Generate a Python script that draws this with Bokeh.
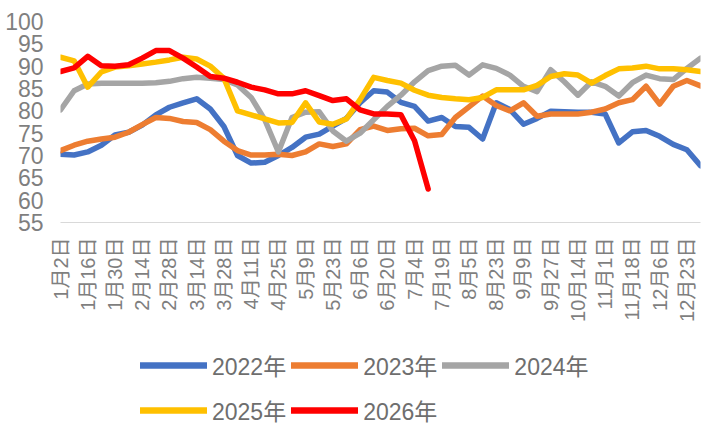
import math
from bokeh.plotting import figure
from bokeh.layouts import column
from bokeh.models import Range1d, FixedTicker, Legend, LegendItem
from bokeh.embed import file_html
from bokeh.resources import INLINE

tick_labels = ["1月2日", "1月16日", "1月30日", "2月14日", "2月28日", "3月14日",
               "3月28日", "4月11日", "4月25日", "5月9日", "5月23日", "6月6日",
               "6月20日", "7月4日", "7月19日", "8月5日", "8月23日", "9月9日",
               "9月27日", "10月14日", "11月1日", "11月18日", "12月6日", "12月23日"]

y2022 = [70.3, 70.1, 70.8, 72.3, 74.6, 75.2, 76.8, 79.1, 80.8, 81.8, 82.7, 80.4,
         76.5, 70.0, 68.3, 68.5, 70.0, 71.8, 74.1, 74.8, 76.6, 78.3, 81.8, 84.5,
         84.2, 81.9, 81.0, 77.7, 78.5, 76.5, 76.3, 73.7, 81.8, 80.3, 77.0, 78.3,
         79.9, 79.8, 79.7, 79.7, 79.3, 72.8, 75.3, 75.6, 74.3, 72.5, 71.3, 67.7]
y2023 = [71.1, 72.3, 73.2, 73.7, 74.1, 75.2, 76.9, 78.5, 78.3, 77.6, 77.4, 75.8,
         73.2, 71.1, 70.1, 70.1, 70.3, 70.0, 70.8, 72.6, 72.0, 72.6, 75.8, 76.6,
         75.6, 76.0, 76.1, 74.4, 74.7, 78.5, 80.9, 83.3, 81.2, 80.0, 81.8, 78.8,
         79.3, 79.3, 79.3, 79.7, 80.4, 81.8, 82.5, 85.5, 81.5, 85.5, 86.8, 85.6]
y2024 = [80.2, 84.5, 86.0, 86.2, 86.2, 86.2, 86.2, 86.3, 86.6, 87.2, 87.5, 87.3,
         87.0, 85.8, 83.0, 78.0, 70.8, 78.5, 79.7, 79.8, 75.5, 73.2, 75.0, 78.0,
         81.0, 83.5, 86.5, 89.0, 90.0, 90.2, 88.0, 90.3, 89.5, 88.0, 85.5, 84.3,
         89.2, 86.5, 83.5, 86.5, 85.5, 83.3, 86.3, 88.0, 87.2, 87.0, 89.5, 91.8]
y2025 = [92.0, 91.2, 85.3, 88.7, 89.8, 90.1, 90.5, 90.9, 91.4, 92.0, 91.6, 90.0,
         87.3, 80.0, 79.1, 78.2, 77.3, 77.4, 81.8, 77.5, 77.0, 78.2, 82.5, 87.5,
         86.8, 86.2, 84.6, 83.5, 83.0, 82.7, 82.5, 83.0, 84.7, 84.7, 84.7, 85.7,
         87.7, 88.3, 88.0, 86.2, 87.9, 89.4, 89.6, 90.0, 89.4, 89.4, 89.2, 88.8]
y2026 = [88.8, 89.6, 92.2, 90.1, 90.0, 90.3, 91.8, 93.5, 93.5, 91.8, 89.8, 87.7,
         87.3, 86.4, 85.3, 84.7, 83.8, 83.8, 84.5, 83.4, 82.3, 82.7, 80.2, 79.3,
         79.3, 79.1, 73.3, 62.5]

series_names = ["2022年", "2023年", "2024年", "2025年", "2026年"]
series_values = [y2022, y2023, y2024, y2025, y2026]
series_colors = ["#4472C4", "#ED7D31", "#A5A5A5", "#FFC000", "#FF0000"]

n_cat = len(y2022)
tick_pos = list(range(0, 2 * len(tick_labels), 2))

FONT = "Liberation Sans, Noto Sans CJK SC"
LINE_W = 5.5

# ---------------- main chart ----------------
p = figure(width=715, height=335, output_backend="svg", toolbar_location=None,
           x_range=Range1d(0, n_cat - 1), y_range=Range1d(55, 100),
           min_border_left=60, min_border_right=15, min_border_top=21,
           min_border_bottom=113)
p.outline_line_color = None
p.background_fill_color = "white"
p.border_fill_color = "white"
p.xgrid.visible = False
p.ygrid.visible = False

p.yaxis.ticker = FixedTicker(ticks=list(range(55, 101, 5)))
p.yaxis.axis_line_color = None
p.yaxis.major_tick_line_color = None
p.yaxis.minor_tick_line_color = None
p.yaxis.major_tick_out = 0
p.yaxis.major_tick_in = 0
p.yaxis.major_label_standoff = 17
p.yaxis.major_label_text_font_size = "23px"
p.yaxis.major_label_text_color = "#7F7F7F"
p.yaxis.major_label_text_font = FONT

p.xaxis.ticker = FixedTicker(ticks=tick_pos)
p.xaxis.major_label_overrides = {t: lab for t, lab in zip(tick_pos, tick_labels)}
p.xaxis.axis_line_color = "#D9D9D9"
p.xaxis.axis_line_width = 1.2
p.xaxis.major_tick_line_color = None
p.xaxis.minor_tick_line_color = None
p.xaxis.major_tick_out = 0
p.xaxis.major_tick_in = 0
p.xaxis.major_label_orientation = math.pi / 2
p.xaxis.major_label_standoff = 15
p.xaxis.major_label_text_font_size = "20px"
p.xaxis.major_label_text_color = "#7F7F7F"
p.xaxis.major_label_text_font = FONT

for vals, col in zip(series_values, series_colors):
    p.line(list(range(len(vals))), vals, line_color=col, line_width=LINE_W,
           line_cap="round", line_join="round")

# ---------------- legend strip ----------------
lg = figure(width=715, height=95, output_backend="svg", toolbar_location=None,
            x_axis_type=None, y_axis_type=None,
            x_range=Range1d(0, 1), y_range=Range1d(0, 1),
            min_border_left=60, min_border_right=15, min_border_top=0,
            min_border_bottom=0)
lg.outline_line_color = None
lg.xgrid.visible = False
lg.ygrid.visible = False
lg.background_fill_color = "white"
lg.border_fill_color = "white"

items = []
for name, col in zip(series_names, series_colors):
    # placeholder renderer (no visible point) that only carries the legend style
    r = lg.line(x=[math.nan], y=[math.nan], line_color=col, line_width=LINE_W + 1,
                line_cap="round", line_join="round")
    items.append(LegendItem(label=name, renderers=[r]))

legend = Legend(items=items, location=(80, 0), orientation="horizontal",
                ncols=3, glyph_width=67, glyph_height=40, label_height=40,
                spacing=5, label_standoff=5, padding=0, margin=0,
                border_line_color=None, background_fill_alpha=0,
                label_text_font_size="23px", label_text_color="#6E6E6E",
                label_text_font=FONT, label_text_baseline="middle")
lg.add_layout(legend, "center")

layout = column(p, lg, spacing=0)
open("out.html", "w").write(file_html(layout, INLINE))
